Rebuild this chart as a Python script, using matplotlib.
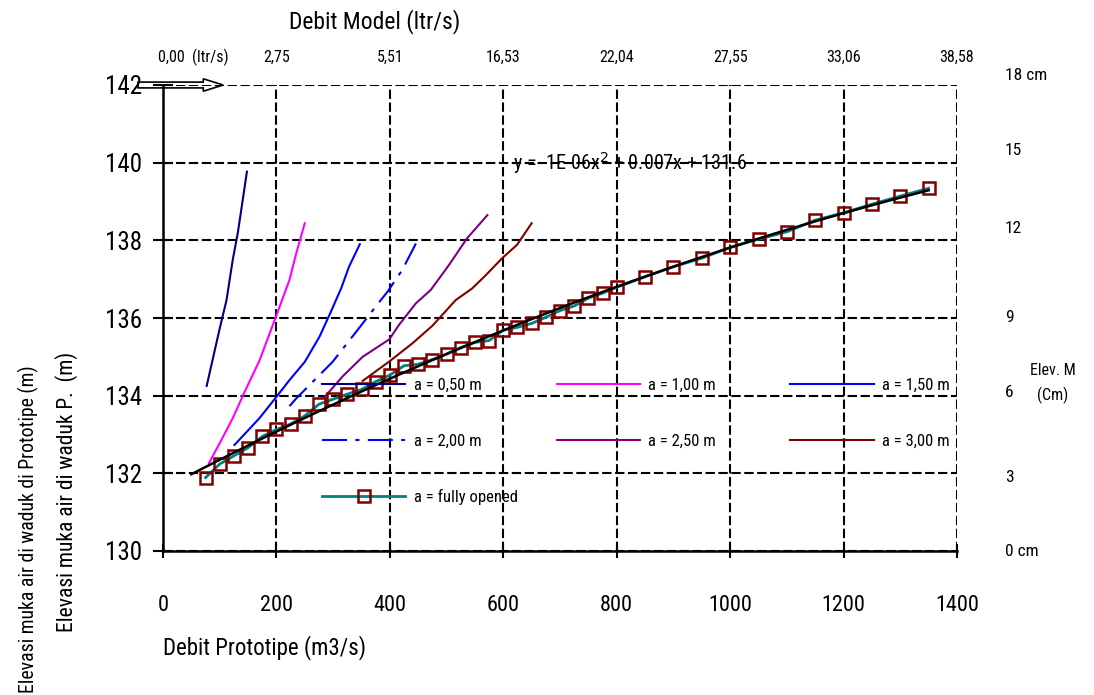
import numpy as np
import matplotlib
matplotlib.use('Agg')
import matplotlib.pyplot as plt
from matplotlib.patches import FancyArrow
from matplotlib.transforms import offset_copy

plt.rcParams['font.family'] = ['Roboto Condensed', 'Archivo Narrow', 'DejaVu Sans']

# debit prototipe (m3/s) vs elevasi muka air (m), per bukaan pintu a
x_050 = [77, 100, 112, 123, 132, 148]
y_050 = [134.25, 135.73, 136.46, 137.5, 138.2, 139.77]

x_100 = [81, 103, 123, 144, 170, 197, 223, 235, 250]
y_100 = [132.26, 132.86, 133.42, 134.1, 134.9, 135.95, 136.98, 137.67, 138.44]

x_150 = [126, 170, 200, 223, 250, 276, 296, 314, 328, 347]
y_150 = [132.73, 133.42, 133.97, 134.4, 134.87, 135.52, 136.16, 136.76, 137.32, 137.9]

x_200 = [223, 235, 299, 343, 384, 396, 422, 446]
y_200 = [133.73, 133.93, 134.87, 135.69, 136.46, 136.68, 137.24, 137.92]

x_250 = [284, 317, 352, 399, 416, 446, 472, 504, 536, 572]
y_250 = [133.95, 134.5, 135.0, 135.45, 135.82, 136.38, 136.72, 137.36, 138.05, 138.65]

x_300 = [352, 399, 440, 475, 516, 545, 569, 598, 624, 650]
y_300 = [134.38, 134.88, 135.35, 135.8, 136.46, 136.76, 137.1, 137.54, 137.88, 138.44]

x_full = [75, 100, 125, 150, 175, 200, 225, 250, 275, 300, 325, 350, 375, 400,
          425, 450, 475, 500, 525, 550, 575, 600, 625, 650, 675, 700, 725, 750,
          775, 800, 850, 900, 950, 1000, 1050, 1100, 1150, 1200, 1250, 1300, 1350]
y_full = [131.89, 132.24, 132.45, 132.66, 132.95, 133.13, 133.27, 133.48, 133.78,
          133.91, 134.04, 134.16, 134.36, 134.53, 134.77, 134.81, 134.93, 135.07,
          135.24, 135.37, 135.42, 135.69, 135.76, 135.86, 136.02, 136.19, 136.31,
          136.51, 136.64, 136.79, 137.06, 137.32, 137.54, 137.82, 138.03, 138.22,
          138.52, 138.71, 138.93, 139.14, 139.34]

trend_range = [50, 1350]

x_ticks = [0, 200, 400, 600, 800, 1000, 1200, 1400]
y_ticks = [130, 132, 134, 136, 138, 140, 142]
top_labels = ['2,75', '5,51', '16,53', '22,04', '27,55', '33,06', '38,58']
right_labels = ['0 cm', '3', '6', '9', '12', '15', '18 cm']
right_dy = [0, -4, 3, 0, 12, 12, 10]   # geser (px) label kanan seperti di gambar asli

fig = plt.figure(figsize=(10.94, 6.95), dpi=100)
ax = fig.add_axes([163/1094, 1-551/695, 794/1094, 466/695])

l050, = ax.plot(x_050, y_050, color='#000080', lw=1.5, label='a = 0,50 m')
l100, = ax.plot(x_100, y_100, color='#FF00FF', lw=1.5, label='a = 1,00 m')
l150, = ax.plot(x_150, y_150, color='#0000FF', lw=1.5, label='a = 1,50 m')
l200, = ax.plot(x_200, y_200, color='#0000FF', lw=1.5, ls=(0, (12, 4, 2, 4)), label='a = 2,00 m')
l250, = ax.plot(x_250, y_250, color='#800080', lw=1.5, label='a = 2,50 m')
l300, = ax.plot(x_300, y_300, color='#800000', lw=1.5, label='a = 3,00 m')
lful, = ax.plot(x_full, y_full, color='#008080', lw=2, marker='s', ms=8,
                mfc='none', mec='#800000', mew=1.8, label='a = fully opened')

# trendline polinomial orde 2 dari data fully opened
coef = np.polyfit(x_full, y_full, 2)
xt = np.linspace(trend_range[0], trend_range[1], 200)
ax.plot(xt, np.polyval(coef, xt), color='black', lw=1.8, zorder=3)

ax.text(618, 140, 'y = -1E-06x$^2$ + 0.007x + 131.6', fontsize=14.5,
        ha='left', va='center')

ax.set_xlim(0, 1400)
ax.set_ylim(130, 142)
ax.set_xticks(x_ticks)
ax.set_yticks(y_ticks)
ax.tick_params(axis='y', direction='inout', length=14, width=1.5, labelsize=18, pad=8)
ax.tick_params(axis='x', direction='inout', length=10, width=1.5, labelsize=16, pad=27)
ax.grid(True, color='black', linestyle=(0, (4.5, 1.7)), linewidth=1.5)
for s in ['top', 'right']:
    ax.spines[s].set_visible(False)
for s in ['left', 'bottom']:
    ax.spines[s].set_linewidth(1.8)

# label atas: debit model
tx = ax.get_xaxis_transform()
ax.text(-9, 1.06, '0,00  (ltr/s)', transform=tx, fontsize=11.5, ha='left', va='center')
for xv, lab in zip(x_ticks[1:], top_labels):
    ax.text(xv, 1.06, lab, transform=tx, fontsize=11.5, ha='center', va='center')
fig.text(375/1094, 1-22/695, 'Debit Model (ltr/s)', fontsize=17, ha='center', va='center')

# panah di kiri atas
arr = FancyArrow(-44, 142, 150, 0, width=0.15, head_width=0.32, head_length=35,
                 length_includes_head=True, fc='white', ec='black', lw=1.2, clip_on=False)
ax.add_patch(arr)

# label kanan: elevasi model
ty = ax.get_yaxis_transform()
for yv, lab, dy in zip(y_ticks, right_labels, right_dy):
    tr = offset_copy(ty, fig=fig, x=0, y=dy, units='dots')
    ax.text(1.06, yv, lab, transform=tr, fontsize=12.5, ha='left', va='center')
ax.text(1.121, 134.66, 'Elev. M', transform=ty, fontsize=11.5, ha='center', va='center')
ax.text(1.121, 134.02, '(Cm)', transform=ty, fontsize=11.5, ha='center', va='center')

fig.text(163/1094, 1-648/695, 'Debit Prototipe (m3/s)', fontsize=16.5, ha='left', va='center')
fig.text(28/1094, 1-693/695, 'Elevasi muka air di waduk di Prototipe (m)', fontsize=14.2,
         rotation=90, ha='center', va='bottom')
fig.text(67/1094, 1-632/695, 'Elevasi muka air di waduk P.  (m)', fontsize=15.5,
         rotation=90, ha='center', va='bottom')

# legenda: tiga kolom dengan lebar sama
cols = [[l050, l200, lful], [l100, l250], [l150, l300]]
col_x = [0.2003, 0.496, 0.790]
legs = []
for hs, cx in zip(cols, col_x):
    lg = ax.legend(handles=hs, labels=[h.get_label() for h in hs], loc='upper left',
                   bbox_to_anchor=(cx, 0.372), frameon=False, fontsize=12,
                   handlelength=5.0, handletextpad=0.5, labelspacing=2.45,
                   borderaxespad=0, borderpad=0)
    legs.append(lg)
for lg in legs[:-1]:
    ax.add_artist(lg)

fig.savefig('out.png', dpi=100)
